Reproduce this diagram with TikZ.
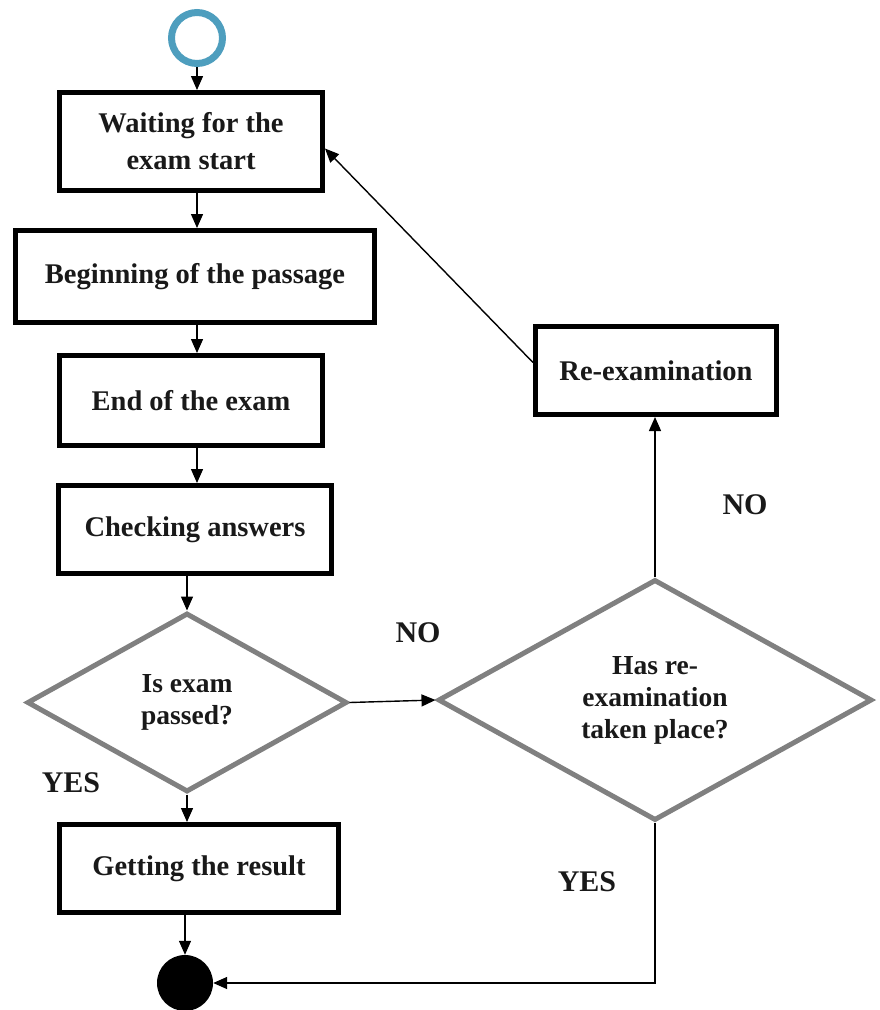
\documentclass[tikz,border=0pt]{standalone}
\usepackage{fontspec}
\setmainfont{Liberation Serif}
\usetikzlibrary{shapes.geometric,arrows.meta}
\definecolor{startblue}{RGB}{78,158,190}
\definecolor{dgrey}{RGB}{128,128,128}
\definecolor{txt}{RGB}{25,25,25}
\tikzset{
  box/.style={draw=black, line width=5pt, rectangle, align=center, inner sep=0pt,
    font=\fontsize{28.5}{37}\selectfont\bfseries, text=txt},
  dec/.style={draw=dgrey, line width=5pt, diamond, align=center, inner sep=0pt,
    font=\fontsize{27.5}{32}\selectfont\bfseries, text=txt},
  lbl/.style={font=\fontsize{30}{32}\selectfont\bfseries, text=txt},
  conn/.style={draw=black, line width=1.4pt, -{Triangle[length=14pt,width=12pt]}},
  plain/.style={draw=black, line width=1.4pt}
}
\begin{document}
\begin{tikzpicture}[x=1pt,y=-1pt]
\useasboundingbox (0,0) rectangle (879,1010);
\node[circle, draw=startblue, line width=7pt, minimum size=51pt, inner sep=0pt] (start) at (197,38) {};
\node[box, minimum width=263pt, minimum height=98pt] (b1) at (191,141.5) {Waiting for the\\exam start};
\node[box, minimum width=359pt, minimum height=92pt] (b2) at (195,276.5) {Beginning of the passage};
\node[box, minimum width=263pt, minimum height=90pt] (b3) at (191,400.5) {End of the exam};
\node[box, minimum width=273pt, minimum height=88pt] (b4) at (195,529.5) {Checking answers};
\node[dec, minimum width=320pt, minimum height=179pt] (d1) at (187,702.5) {Is exam\\passed?};
\node[box, minimum width=279pt, minimum height=88pt] (b5) at (199,868.5) {Getting the result};
\node[circle, fill=black, minimum size=56pt, inner sep=0pt] (end) at (185,983) {};
\node[dec, minimum width=434pt, minimum height=241pt] (d2) at (655,700) {Has re-\\examination\\taken place?};
\node[box, minimum width=241pt, minimum height=88pt] (re) at (656,370.5) {Re-examination};

\node[lbl] (no1) at (418,633) {NO};
\node[lbl] (yes1) at (71,783) {YES};
\node[lbl] (no2) at (745,505) {NO};
\node[lbl] (yes2) at (587,882) {YES};

\draw[conn] (start.south) -- (start.south |- b1.north);
\draw[conn] (b1.south -| start) -- (b2.north -| start);
\draw[conn] (b2.south -| start) -- (b3.north -| start);
\draw[conn] (b3.south -| start) -- (b4.north -| start);
\draw[conn] (b4.south -| d1.north) -- (d1.north);
\draw[conn] (d1.south) -- (d1.south |- b5.north);
\draw[conn] (b5.south -| end.north) -- (end.north);
\draw[conn] (d1.east) -- (d2.west);
\draw[conn] (d2.north) -- (d2.north |- re.south);
\draw[conn] (d2.south) |- (end.east);
\draw[conn] ([yshift=8pt]re.west) -- ([yshift=-7pt]b1.east);
\end{tikzpicture}
\end{document}
